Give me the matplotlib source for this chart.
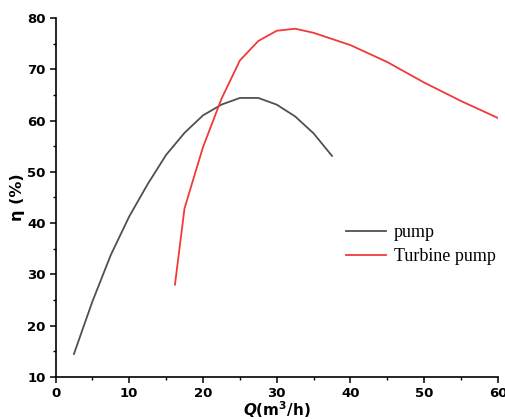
import matplotlib
matplotlib.use("Agg")
import matplotlib.pyplot as plt
from matplotlib.ticker import MultipleLocator

pump_q = [2.5, 5, 7.5, 10, 12.5, 15, 17.5, 20, 22.5, 25, 27.5, 30, 32.5, 35, 37.5]
pump_eta = [14.5, 24.7, 33.8, 41.3, 47.6, 53.3, 57.6, 61.0, 63.1, 64.4, 64.4, 63.1, 60.8, 57.5, 53.1]

turb_q = [16.2, 17.5, 20, 22.5, 25, 27.5, 30, 32.5, 35, 40, 45, 50, 55, 60]
turb_eta = [28.0, 42.9, 54.8, 64.2, 71.7, 75.5, 77.5, 77.9, 77.1, 74.7, 71.4, 67.4, 63.8, 60.5]

fig = plt.figure(figsize=(5.06, 4.19), dpi=100)
ax = fig.add_axes([0.1097, 0.1002, 0.8743, 0.857])

ax.plot(pump_q, pump_eta, color="#505050", lw=1.3, label="pump")
ax.plot(turb_q, turb_eta, color="#f03a3a", lw=1.3, label="Turbine pump")

ax.set_xlim(0, 60)
ax.set_ylim(10, 80)
ax.xaxis.set_major_locator(MultipleLocator(10))
ax.xaxis.set_minor_locator(MultipleLocator(5))
ax.yaxis.set_major_locator(MultipleLocator(10))
ax.yaxis.set_minor_locator(MultipleLocator(5))
for s in ["top", "right"]:
    ax.spines[s].set_visible(False)
for s in ["left", "bottom"]:
    ax.spines[s].set_linewidth(1.2)
ax.tick_params(which="major", direction="out", length=4, width=1.1, labelsize=9.5, pad=3)
ax.tick_params(which="minor", direction="out", length=2.5, width=1.0)
for lbl in ax.get_xticklabels() + ax.get_yticklabels():
    lbl.set_fontweight("bold")
    lbl.set_family("DejaVu Sans")

ax.set_xlabel(r"$\mathbfit{Q}$(m$^{\mathbf{3}}$/h)", fontsize=11, fontweight="bold", labelpad=0)
ax.set_ylabel("η (%)", fontsize=11.5, fontweight="bold", labelpad=2)

leg = ax.legend(loc="upper left", bbox_to_anchor=(0.62, 0.471), frameon=False,
                prop={"family": "Liberation Serif", "size": 13}, handlelength=2.2,
                handletextpad=0.45, labelspacing=0.4)

fig.savefig("out.png", dpi=100)
